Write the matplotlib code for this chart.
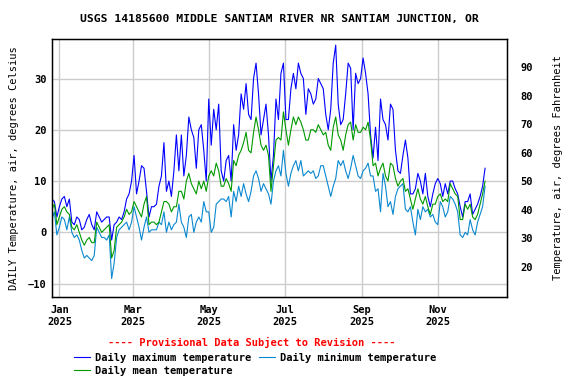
import numpy as np
import pandas as pd
import matplotlib
matplotlib.use("Agg")
import matplotlib.pyplot as plt
import matplotlib.dates as mdates

# every second day from 2024-12-26 to 2025-12-09
dates = pd.date_range("2024-12-26", periods=175, freq="2D")

tmax = [6.5, 6, 3, 5, 6.5, 7, 5, 6.5, 2, 1.5, 3, 2.5, 0.5, 1, 2.5, 3.5, 1.5, 0.5, 4, 3,
        2, 2.5, 3, 3, -1.5, 1.5, 2, 3, 2.5, 4, 6.5, 7.5, 10, 15, 7.5, 10, 13, 12.5, 8, 3,
        5, 5, 5.5, 9, 11, 17.5, 8, 10, 7, 12, 19, 12, 19, 11, 15, 22.5, 20, 18.5, 12.5, 20,
        21, 16, 10, 26, 17, 24, 20, 25, 12, 10, 14, 15, 10, 21, 16, 19, 27, 24, 29, 23,
        22, 30, 33, 27, 19, 22, 25, 19, 10, 15, 26, 22, 31, 33, 22, 22, 28, 31, 28, 33,
        31, 30, 23, 28, 27, 25, 26, 30, 29, 28, 23, 20, 24, 33, 36.5, 25, 21, 22, 27, 33,
        32, 20, 31, 29, 30, 34, 31, 27, 19, 14.5, 20.5, 14, 26, 22, 21, 18, 25, 24, 16, 12,
        11.5, 15, 18, 14.5, 7.5, 7.5, 8.5, 11.5, 10, 7.5, 11.5, 7, 5, 7.5, 9.5, 10.5, 9.5, 7, 9.5, 7.5,
        10, 10, 8.5, 7.5, 5, 3, 6, 6, 7.5, 3.5, 4.5, 5.5, 7, 9, 12.5]

tmean = [4.5, 5.5, 1.5, 3, 4.5, 5, 4, 3.5, 1, 0.5, 1.5, 0, -1.5, -2.5, -1.5, -1, -2, -2, 2, 1,
         0, 0.5, 1, 1.5, -5, -3.5, 1, 1.5, 2, 3, 4.5, 3.5, 4, 6, 5, 4, 3, 5.5, 7, 1.5,
         2, 2, 1.5, 2, 4, 6, 6, 5.5, 4, 5, 5, 8, 8, 6.5, 10, 11.5, 9.5, 8.5, 7.5, 10,
         8.5, 10, 8, 11, 12, 11, 13.5, 12, 9, 9, 10.5, 9.5, 8, 14, 13, 15, 16, 17.5, 19.5, 16,
         15.5, 19.5, 22.5, 20, 17, 16, 17, 15, 8, 13, 18, 18.5, 18, 23.5, 20, 17, 20, 22.5, 21, 22.5,
         21.5, 20, 18, 18, 20, 20, 19.5, 21, 20, 19, 19.5, 17, 16, 20.5, 22.5, 19, 18, 16, 19, 21,
         21.5, 18, 21, 19.5, 19.5, 20.5, 20, 21.5, 18, 13, 13.5, 11, 12.5, 13.5, 11, 10, 13.5, 13, 10.5, 9,
         10, 10.5, 8, 8.5, 6.5, 4.5, 6.5, 8.5, 6.5, 5.5, 7, 5, 3.5, 5.5, 5.5, 7, 7.5, 6, 6.5, 6,
         9.5, 8.5, 7.5, 7, 2.5, 2.5, 5.5, 4.5, 5.5, 3, 2.5, 3.5, 5.5, 7.5, 10]

tmin = [2.5, 4, -0.5, 1, 3, 2.5, 0.5, 3, 0, -1, -0.5, -1.5, -3.5, -5, -4.5, -5, -5.5, -4.5, 1, 0,
        -1, -1, -1.5, -0.5, -9, -6, -1, 0.5, 1, 1.5, 2, 0.5, 2, 5, 3, 1, -1.5, 1, 3, 0,
        0.5, 0.5, 0.5, 2, 1.5, 4, 0, 2, 0.5, 1.5, 2, 5.5, 2, 1, -1, 3, 3.5, 0, 2, 3,
        2, 6, 4, 4, 0, 1, 5.5, 6, 6.5, 6.5, 6, 7, 3, 8, 6, 9, 7, 9.5, 7.5, 6,
        8, 11, 12, 10.5, 8, 9.5, 8.5, 7.5, 5.5, 10, 12, 13, 11, 16, 11.5, 9, 11.5, 13, 14, 12,
        14, 11, 11.5, 12, 11.5, 12, 10.5, 11, 13, 13, 11, 9, 7, 9, 10.5, 14, 13, 14, 12, 10.5,
        12.5, 15, 13, 11, 10.5, 12, 12.5, 13.5, 11, 11, 8, 8.5, 4, 11.5, 9, 5, 6, 3.5, 7, 8.5,
        9, 9.5, 4.5, 4, 5, 2, -0.5, 4.5, 2.5, 5, 4, 4.5, 3, 3.5, 2, 1.5, 6, 5, 3, 4,
        7, 6.5, 5.5, 4, -0.5, -1, 0, -0.5, 2.5, 0.5, -0.5, 2, 3.5, 5, 9]

title = "USGS 14185600 MIDDLE SANTIAM RIVER NR SANTIAM JUNCTION, OR"
labels = ["Daily maximum temperature", "Daily mean temperature", "Daily minimum temperature"]
colors = ["#0000ff", "#009900", "#0a88d0"]

plt.rcParams["font.family"] = "DejaVu Sans Mono"
plt.rcParams["font.weight"] = "bold"
plt.rcParams["font.size"] = 7.5

fig = plt.figure(figsize=(5.76, 3.84), dpi=100)
ax = fig.add_axes([0.0903, 0.2266, 0.7894, 0.6718])

lines = []
for vals, lab, col in zip([tmax, tmean, tmin], labels, colors):
    ln, = ax.plot(dates, vals, color=col, lw=0.8, label=lab)
    lines.append(ln)
# mean drawn on top
lines[1].set_zorder(3)

ax.set_xlim(pd.Timestamp("2024-12-26 02:00"), pd.Timestamp("2025-12-26 09:00"))
ax.set_ylim(-12.6, 37.7)
ax.set_yticks([-10, 0, 10, 20, 30])
ax.xaxis.set_major_locator(mdates.MonthLocator(bymonth=[1, 3, 5, 7, 9, 11]))
ax.xaxis.set_major_formatter(mdates.DateFormatter("%b\n%Y"))
ax.grid(True, color="#cccccc", lw=1)
ax.set_axisbelow(True)
ax.tick_params(length=0, pad=4)
ax.tick_params(axis="x", pad=6)
for s in ax.spines.values():
    s.set_linewidth(1)
ax.set_ylabel("DAILY Temperature, air, degrees Celsius", labelpad=6)

ax2 = ax.twinx()
ax2.set_ylim(-12.6 * 9 / 5 + 32, 37.7 * 9 / 5 + 32)
ax2.set_yticks([20, 30, 40, 50, 60, 70, 80, 90])
ax2.tick_params(length=0, pad=10)
ax2.set_ylabel("Temperature, air, degrees Fahrenheit", labelpad=14)

fig.text(0.485, 0.950, title, ha="center", va="center", fontsize=8.2)
fig.text(0.437, 0.107, "---- Provisional Data Subject to Revision ----",
         ha="center", va="center", color="red")
fig.legend(lines, labels, ncol=2, loc="center", bbox_to_anchor=(0.443, 0.051),
           frameon=False, handlelength=1.5, handletextpad=0.5, columnspacing=0.8,
           labelspacing=0.3)

fig.savefig("out.png", dpi=100)
